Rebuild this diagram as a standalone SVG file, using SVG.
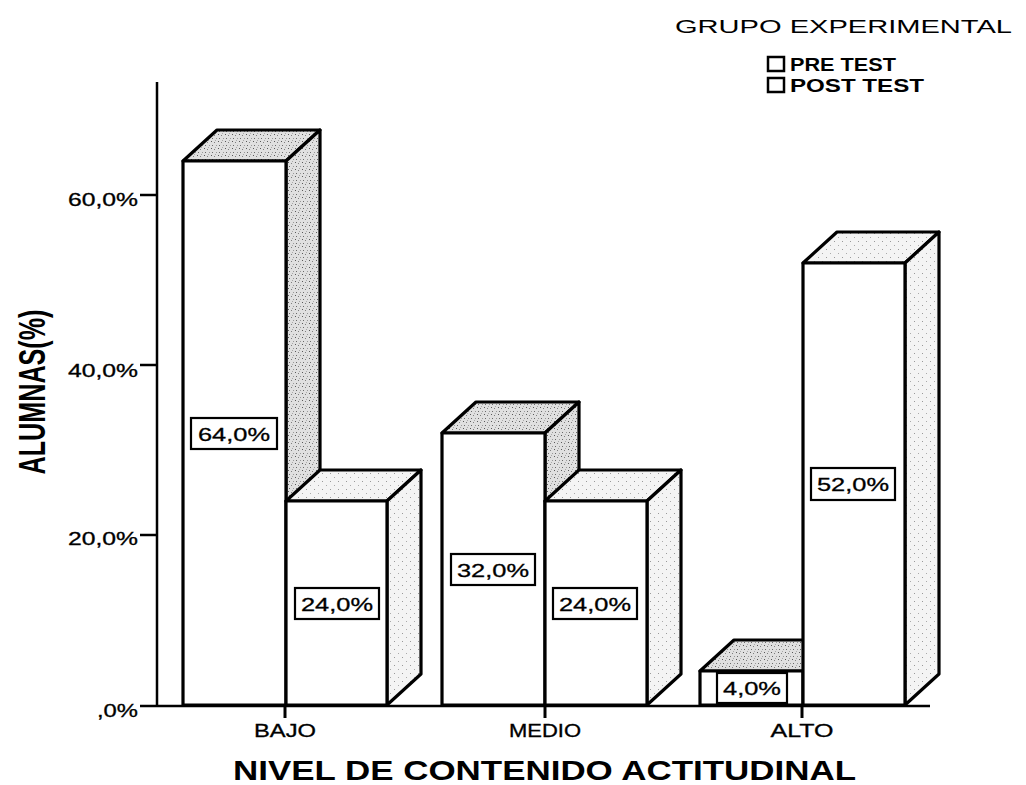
<svg xmlns="http://www.w3.org/2000/svg" width="1026" height="785" viewBox="0 0 1026 785">
<style>
  text { font-family: "Liberation Sans", Arial, sans-serif; fill: #000; }
  .thick { stroke: #000; stroke-width: 0.3; }
  .ax { stroke: #000; stroke-width: 2.5; fill: none; }
  .front { fill: #fff; stroke: #000; stroke-width: 3.2; stroke-linejoin: round; }
  .pre { fill: url(#stD); stroke: #000; stroke-width: 3.2; stroke-linejoin: round; }
  .post { fill: url(#stL); stroke: #000; stroke-width: 3.2; stroke-linejoin: round; }
  .tick { font-size: 18px; text-anchor: end; }
  .cat { font-size: 18px; text-anchor: middle; }
  .lbox { fill: #fff; stroke: #000; stroke-width: 2.2; }
  .lbl { font-size: 19px; text-anchor: middle; }
  .leg { font-size: 19px; font-weight: bold; }
  .lsq { fill: #fff; stroke: #000; stroke-width: 2.5; }
</style>
<defs>
  <pattern id="stD" width="7" height="7" patternUnits="userSpaceOnUse">
    <rect width="7" height="7" fill="#e0e0e0"/>
    <rect x="1" y="1" width="1" height="1" fill="#5a5a5a"/>
    <rect x="4" y="2" width="1" height="1" fill="#808080"/>
    <rect x="2" y="5" width="1" height="1" fill="#6a6a6a"/>
    <rect x="6" y="5" width="1" height="1" fill="#999"/>
    <rect x="5" y="0" width="1" height="1" fill="#aaa"/>
  </pattern>
  <pattern id="stL" width="8" height="8" patternUnits="userSpaceOnUse">
    <rect width="8" height="8" fill="#f4f4f4"/>
    <rect x="2" y="1" width="1" height="1" fill="#999"/>
    <rect x="6" y="5" width="1" height="1" fill="#aaa"/>
  </pattern>
</defs>
<rect width="1026" height="785" fill="#fff"/>

<g id="axes">
  <line class="ax" x1="157" y1="82" x2="157" y2="706"/>
  <line class="ax" x1="140" y1="706" x2="930" y2="706"/>
  <line class="ax" x1="140" y1="195" x2="157" y2="195"/>
  <line class="ax" x1="140" y1="365" x2="157" y2="365"/>
  <line class="ax" x1="140" y1="535" x2="157" y2="535"/>
  <line x1="285" y1="705" x2="285" y2="718" stroke="#000" stroke-width="3"/>
  <line x1="545" y1="705" x2="545" y2="718" stroke="#000" stroke-width="3"/>
  <line x1="802" y1="705" x2="802" y2="718" stroke="#000" stroke-width="3"/>
  <text class="tick thick" x="138" y="206" textLength="70" lengthAdjust="spacingAndGlyphs">60,0%</text>
  <text class="tick thick" x="138" y="377" textLength="70" lengthAdjust="spacingAndGlyphs">40,0%</text>
  <text class="tick thick" x="138" y="545" textLength="70" lengthAdjust="spacingAndGlyphs">20,0%</text>
  <text class="tick thick" x="138" y="717" textLength="41" lengthAdjust="spacingAndGlyphs">,0%</text>
  <text class="cat thick" x="285" y="737" textLength="62" lengthAdjust="spacingAndGlyphs">BAJO</text>
  <text class="cat thick" x="545" y="737" textLength="72" lengthAdjust="spacingAndGlyphs">MEDIO</text>
  <text class="cat thick" x="802" y="737" textLength="63" lengthAdjust="spacingAndGlyphs">ALTO</text>
  <text x="233" y="780" font-size="27" font-weight="bold" textLength="623" lengthAdjust="spacingAndGlyphs">NIVEL DE CONTENIDO ACTITUDINAL</text>
  <text transform="translate(45,392) rotate(-90)" text-anchor="middle" font-size="37" font-weight="bold" textLength="165" lengthAdjust="spacingAndGlyphs">ALUMNAS(%)</text>
</g>

<g id="legend">
  <text x="675" y="33" font-size="19" textLength="337" lengthAdjust="spacingAndGlyphs">GRUPO EXPERIMENTAL</text>
  <rect class="lsq" x="768" y="57" width="16" height="14"/>
  <text class="leg" x="790" y="71" textLength="106" lengthAdjust="spacingAndGlyphs">PRE TEST</text>
  <rect class="lsq" x="768" y="78" width="16" height="14"/>
  <text class="leg" x="790" y="92" textLength="134" lengthAdjust="spacingAndGlyphs">POST TEST</text>
</g>

<g id="bajo-pre">
  <polygon class="pre" points="183,161 217,130 320,130 286,161"/>
  <polygon class="pre" points="286,161 320,130 320,674 286,705"/>
  <rect class="front" x="183" y="161" width="103" height="544"/>
</g>
<g id="bajo-post">
  <polygon class="post" points="286,501 320,470 421,470 387,501"/>
  <polygon class="post" points="387,501 421,470 421,674 387,705"/>
  <rect class="front" x="286" y="501" width="101" height="204"/>
</g>
<g id="medio-pre">
  <polygon class="pre" points="442,433 476,402 579,402 545,433"/>
  <polygon class="pre" points="545,433 579,402 579,674 545,705"/>
  <rect class="front" x="442" y="433" width="103" height="272"/>
</g>
<g id="medio-post">
  <polygon class="post" points="545,501 579,470 681,470 647,501"/>
  <polygon class="post" points="647,501 681,470 681,674 647,705"/>
  <rect class="front" x="545" y="501" width="102" height="204"/>
</g>
<g id="alto-pre">
  <polygon class="pre" points="700,671 734,640 837,640 803,671"/>
  <polygon class="pre" points="803,671 837,640 837,674 803,705"/>
  <rect class="front" x="700" y="671" width="103" height="34"/>
</g>
<g id="alto-post">
  <polygon class="post" points="803,263 837,232 939,232 905,263"/>
  <polygon class="post" points="905,263 939,232 939,674 905,705"/>
  <rect class="front" x="803" y="263" width="102" height="442"/>
</g>

<g id="labels">
  <rect class="lbox" x="191" y="418" width="86" height="31"/>
  <text class="lbl thick" x="234" y="441" textLength="72" lengthAdjust="spacingAndGlyphs">64,0%</text>
  <rect class="lbox" x="295" y="588" width="84" height="31"/>
  <text class="lbl thick" x="337" y="611" textLength="72" lengthAdjust="spacingAndGlyphs">24,0%</text>
  <rect class="lbox" x="451" y="554" width="84" height="31"/>
  <text class="lbl thick" x="493" y="577" textLength="72" lengthAdjust="spacingAndGlyphs">32,0%</text>
  <rect class="lbox" x="553" y="588" width="84" height="31"/>
  <text class="lbl thick" x="595" y="611" textLength="72" lengthAdjust="spacingAndGlyphs">24,0%</text>
  <rect class="lbox" x="717" y="673" width="70" height="30"/>
  <text class="lbl thick" x="752" y="695" textLength="58" lengthAdjust="spacingAndGlyphs">4,0%</text>
  <rect class="lbox" x="811" y="468" width="84" height="32"/>
  <text class="lbl thick" x="853" y="491" textLength="72" lengthAdjust="spacingAndGlyphs">52,0%</text>
</g>
</svg>
